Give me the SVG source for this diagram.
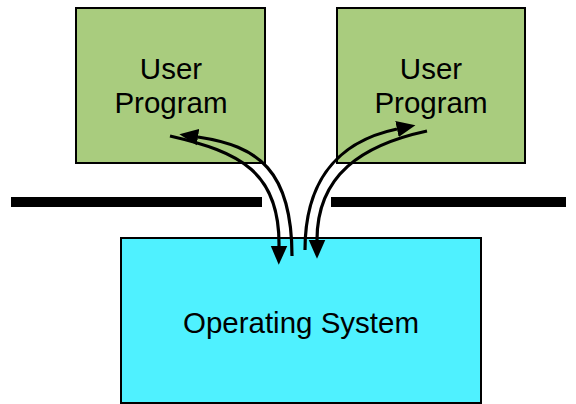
<svg xmlns="http://www.w3.org/2000/svg" width="576" height="404" viewBox="0 0 576 404">
<style>
.box{stroke:#000;stroke-width:2}
.user{fill:#A9CC7E}
.os{fill:#4FF1FF}
.lbl{font-family:"Liberation Sans",Arial,sans-serif;font-size:29.5px;fill:#000;text-anchor:middle}
.bar{fill:#000}
.arr{fill:none;stroke:#000;stroke-width:3.2;marker-end:url(#ah)}
</style>
<defs>
<marker id="ah" markerUnits="userSpaceOnUse" markerWidth="20" markerHeight="20" viewBox="0 -8 17 16" refX="0" refY="0" orient="auto">
<path d="M0,-7 L16,0 L0,7 z" fill="#000"/>
</marker>
</defs>
<g id="barrier">
<rect class="bar" x="11" y="197" width="251" height="10"/>
<rect class="bar" x="331" y="197" width="235" height="10"/>
</g>
<g id="user1">
<rect class="box user" x="76" y="8" width="189" height="155"/>
<text class="lbl" x="171" y="79">User</text>
<text class="lbl" x="171" y="113">Program</text>
</g>
<g id="user2">
<rect class="box user" x="337" y="8" width="188" height="155"/>
<text class="lbl" x="431" y="79">User</text>
<text class="lbl" x="431" y="113">Program</text>
</g>
<g id="os">
<rect class="box os" x="121" y="238" width="360" height="165"/>
<text class="lbl" x="301" y="333">Operating System</text>
</g>
<g id="connectors">
<path class="arr" d="M170,136 C240,152 280,172 279,246"/>
<path class="arr" d="M292,256 C292,170 258,146 198,137"/>
<path class="arr" d="M305,250 C305,190 330,143 397,129"/>
<path class="arr" d="M427,131 C362,145 317,175 317,240"/>
</g>
</svg>
